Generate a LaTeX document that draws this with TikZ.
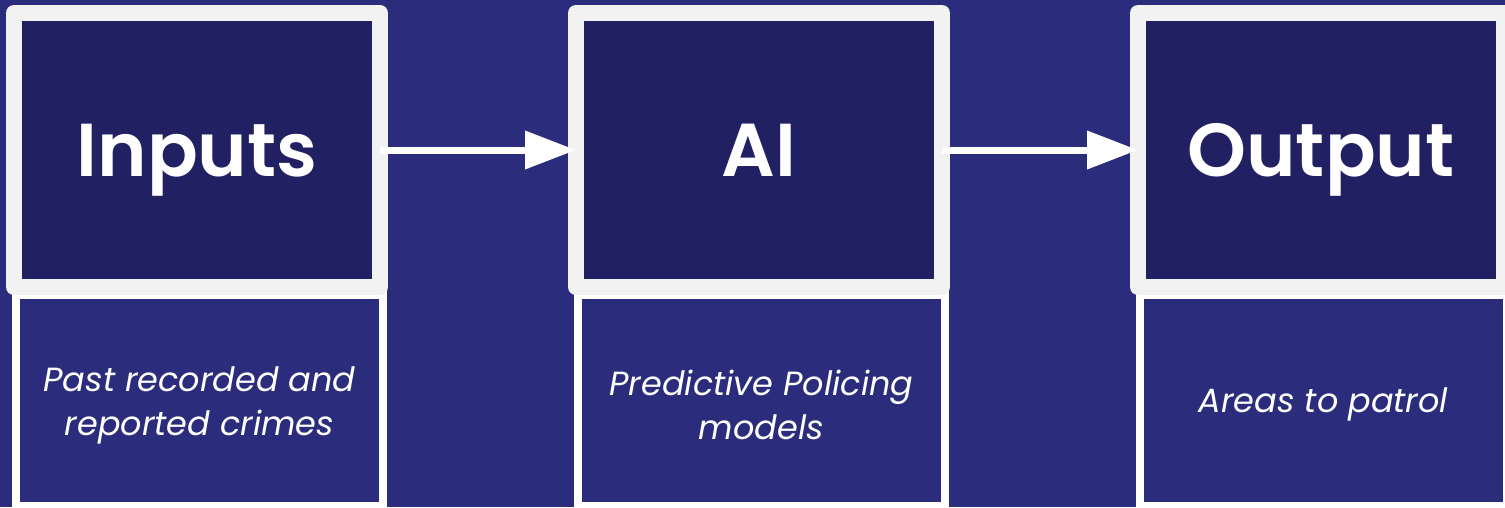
\documentclass[tikz,border=0pt]{standalone}
\usepackage{fontspec}
\setmainfont{Poppins}[BoldFont={Poppins SemiBold}]
\usetikzlibrary{arrows.meta}
\definecolor{bgblue}{RGB}{43,45,124}
\definecolor{darkblue}{RGB}{32,32,98}
\definecolor{framegray}{RGB}{242,242,242}

\begin{document}
\begin{tikzpicture}[x=1pt,y=-1pt]
\tikzstyle{every node}+=[inner sep=0pt, outer sep=0pt]
\tikzstyle{stage}=[draw=framegray, line width=16pt, line join=round, fill=darkblue, minimum width=366pt, minimum height=274pt, text=white, text depth=0pt, font=\fontsize{75}{90}\selectfont\bfseries]
\tikzstyle{note}=[draw=white, line width=8pt, fill=bgblue, minimum width=367pt, minimum height=211pt]
\tikzstyle{notetext}=[text=white, align=center, font=\fontsize{33.5}{44}\selectfont\itshape]
\tikzstyle{flow}=[white, line width=7pt, -{Triangle[length=51pt,width=37pt]}]
\useasboundingbox (0,0) rectangle (1505,507);
\fill [bgblue] (0,0) rectangle (1505,507);
\clip (0,0) rectangle (1505,507);
% lower boxes
\node [note] (inputsnote) at (199.5,400.5) {};
\node [note] (ainote) at (761.5,400.5) {};
\node [note] (outputnote) at (1323.5,400.5) {};
\node [notetext] (inputsdesc) at (199.5,405) {Past recorded and\\reported crimes};
\node [notetext] (aidesc) at (761.5,405) {Predictive Policing\\models};
\node [notetext] (outputdesc) at (1323.5,404) {Areas to patrol};
% upper boxes
\node [stage] (inputs) at (197,150) {Inputs};
\node [stage] (ai) at (759,150) {AI};
\node [stage] (output) at (1321,150) {Output};
\draw [flow] (inputs) -- (ai);
\draw [flow] (ai) -- (output);
\end{tikzpicture}
\end{document}
